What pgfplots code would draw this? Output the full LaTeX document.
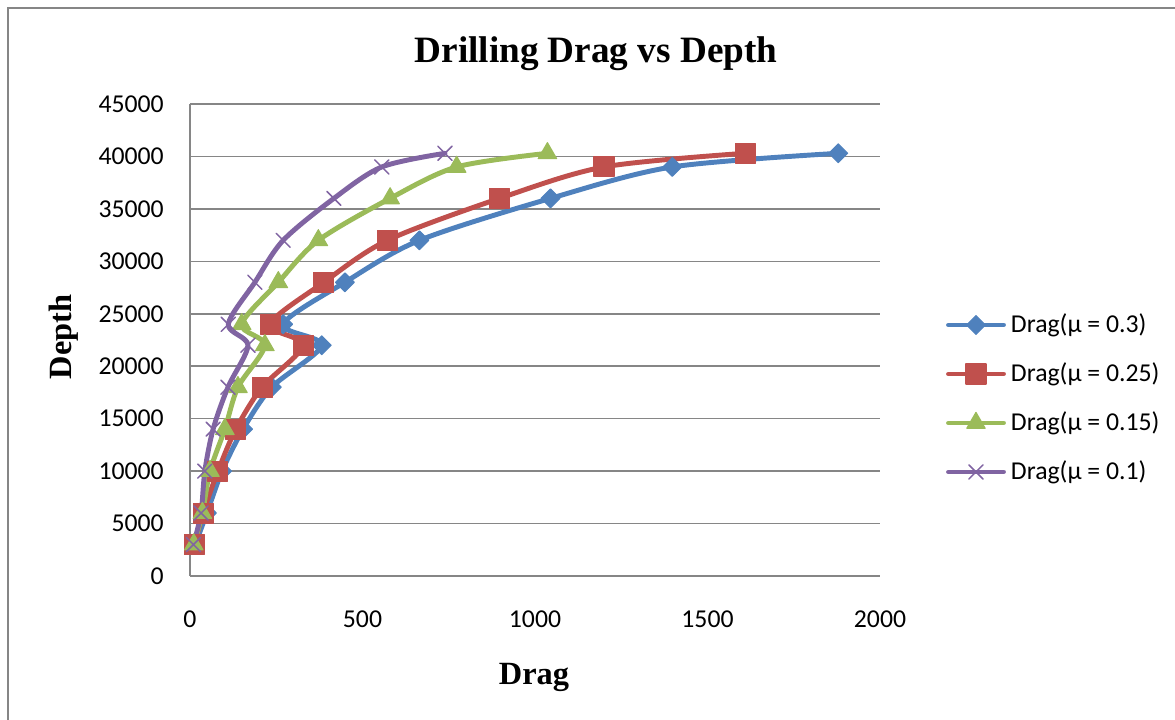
\documentclass[border=0pt]{standalone}
\usepackage{pgfplots}
\pgfplotsset{compat=1.18}
\usepackage{fontspec}
\setmainfont{Liberation Serif}
\newfontfamily\carlito{Carlito}
\definecolor{cBlue}{RGB}{79,129,189}
\definecolor{cRed}{RGB}{192,80,77}
\definecolor{cGreen}{RGB}{155,187,89}
\definecolor{cPurple}{RGB}{128,100,162}
\definecolor{gridgray}{RGB}{134,134,134}
\begin{document}
\begin{tikzpicture}
\path[use as bounding box] (0,0) rectangle (881.25pt,540pt);
\draw[gridgray, line width=1.1pt] (6pt,-5pt) -- (6pt,534pt) -- (890pt,534pt);
\begin{axis}[
  at={(142.5pt,108pt)}, anchor=south west,
  scale only axis, width=517.5pt, height=354pt,
  xmin=0, xmax=2000, ymin=0, ymax=45000,
  xtick={0,500,1000,1500,2000},
  ytick={0,5000,10000,15000,20000,25000,30000,35000,40000,45000},
  scaled x ticks=false, scaled y ticks=false,
  /pgf/number format/1000 sep={},
  /pgf/number format/assume math mode=true,
  axis x line*=bottom, axis y line*=left,
  axis line style={gridgray, line width=1.1pt, -},
  major tick length=0pt,
  ymajorgrids, major grid style={gridgray, line width=1.1pt},
  tick label style={font=\carlito\fontsize{19.3}{23}\selectfont, text=black},
  xticklabel style={anchor=base, inner sep=0pt, yshift=-39pt},
  yticklabel style={anchor=east, inner sep=0pt, xshift=-19.5pt},
  clip=false,
  legend cell align=left,
  legend style={draw=none, fill=none, inner sep=0pt, outer sep=0pt,
    at={(axis description cs:1.0957,0.3761)}, anchor=west,
    font=\carlito\fontsize{19.3}{23}\selectfont,
    row sep=15.75pt,
    nodes={inner sep=0pt, anchor=west, text height=16.5pt, text depth=4.5pt},
    /tikz/every odd column/.append style={column sep=3.75pt}},
  legend image code/.code={\draw[mark repeat=2,mark phase=2,#1] plot coordinates {(0pt,0pt)(20.6pt,0pt)(41.25pt,0pt)};},
  every axis plot/.append style={line width=3.7pt, smooth, line cap=round, line join=round},
]
\addplot[cBlue, mark=square*, mark options={rotate=45, mark size=5pt, fill=cBlue, line width=0.8pt}] coordinates {
(15,3000)(49,6000)(93,10000)(154,14000)(237,18000)(382,22000)(270,24000)(449,28000)(665,32000)(1045,36000)(1398,39000)(1879,40300)};
\addlegendentry{Drag(μ = 0.3)}
\addplot[cRed, mark=square*, mark options={mark size=7.5pt, fill=cRed, line width=0.8pt}] coordinates {
(13,3000)(38,6000)(81,10000)(133,14000)(209,18000)(328,22000)(232,24000)(388,28000)(572,32000)(897,36000)(1200,39000)(1609,40300)};
\addlegendentry{Drag(μ = 0.25)}
\addplot[cGreen, mark=triangle*, mark options={mark size=8pt, fill=cGreen, line width=0.8pt}] coordinates {
(11,3000)(36,6000)(58,10000)(101,14000)(139,18000)(217,22000)(150,24000)(256,28000)(372,32000)(580,36000)(773,39000)(1036,40300)};
\addlegendentry{Drag(μ = 0.15)}
\addplot[cPurple, mark=x, mark options={mark size=7.5pt, line width=1.1pt}] coordinates {
(10,3000)(32,6000)(43,10000)(67,14000)(110,18000)(168,22000)(111,24000)(188,28000)(270,32000)(417,36000)(556,39000)(739,40300)};
\addlegendentry{Drag(μ = 0.1)}
\end{axis}
\node[anchor=base, inner sep=0pt, font=\bfseries\fontsize{27.9}{32}\selectfont] at (447pt,492.75pt) {Drilling Drag vs Depth};
\node[anchor=base, inner sep=0pt, font=\bfseries\fontsize{24.3}{28}\selectfont] at (400.5pt,26.25pt) {Drag};
\node[rotate=90, inner sep=0pt, font=\bfseries\fontsize{24.3}{28}\selectfont] at (47.5pt,287.25pt) {Depth};
\end{tikzpicture}
\end{document}
